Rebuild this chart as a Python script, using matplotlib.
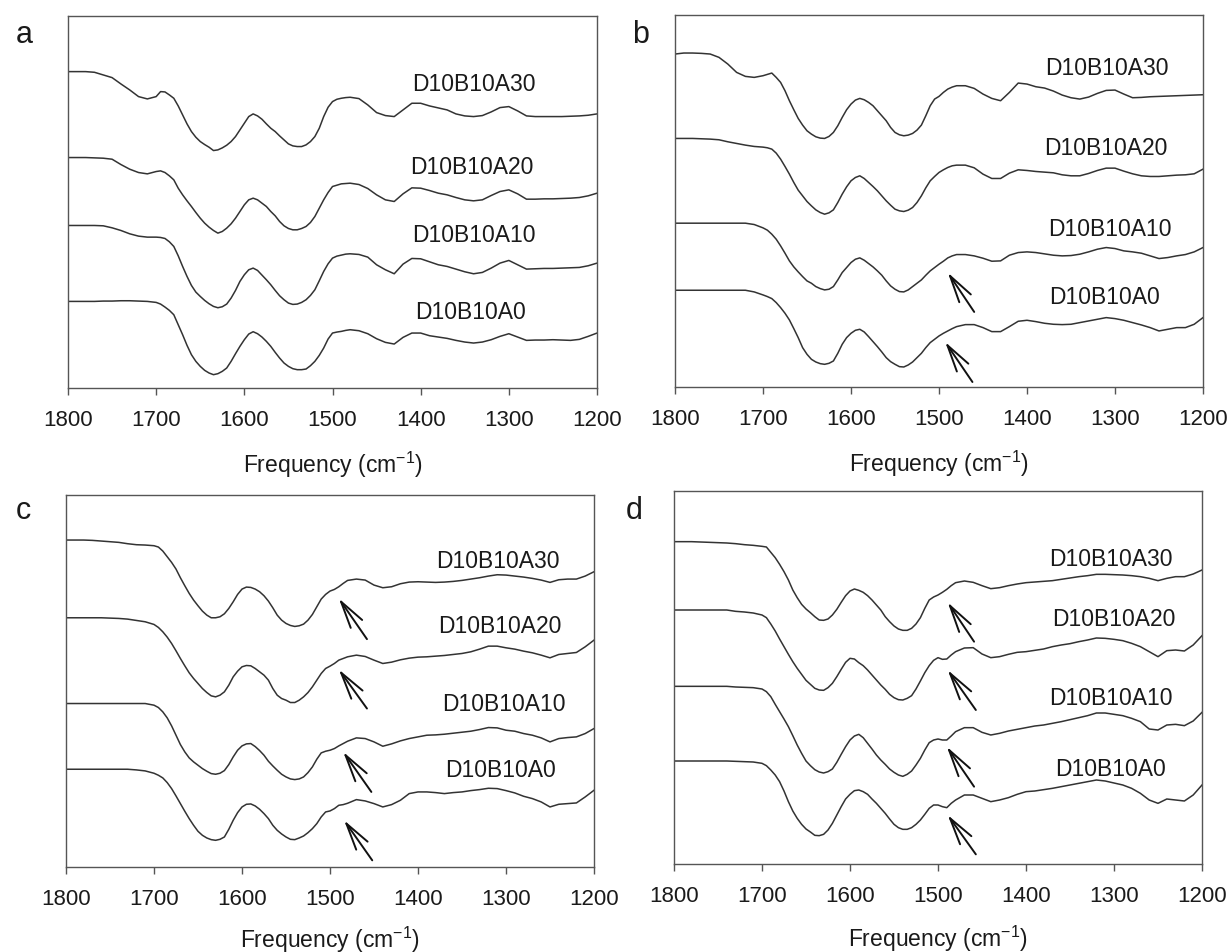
"""
FTIR amide region spectra, four panels (a-d), stacked curves with labels.
"""

import matplotlib
matplotlib.use('Agg')  # Non-interactive backend
import matplotlib.pyplot as plt
import numpy as np

plt.rcParams['font.family'] = ['Liberation Sans', 'DejaVu Sans']
plt.rcParams['mathtext.fontset'] = 'custom'
plt.rcParams['mathtext.rm'] = 'Liberation Sans'
plt.rcParams['mathtext.default'] = 'regular'

# Frequency grids (cm-1): every 10 from 1800 to 1200, plus the
# in-between readings 1695..1485 across the amide bands
freq = np.arange(1800, 1199, -10)
freq_mid = np.arange(1695, 1480, -10)

names = ['D10B10A30', 'D10B10A20', 'D10B10A10', 'D10B10A0']

# ---- panel a ----
a_A30 = [95.0, 95.0, 95.0, 94.8, 94.0, 93.2, 91.3, 89.5, 87.5, 86.8,
         87.5, 88.9, 87.0, 82.0, 77.0, 74.0, 72.3, 71.5, 72.9, 75.5,
         79.5, 82.3, 80.7, 78.0, 75.7, 73.3, 72.5, 73.0, 75.5, 81.5,
         86.0, 87.0, 87.3, 86.9, 85.0, 82.7, 81.8, 81.5, 83.5, 85.5,
         85.5, 84.7, 84.1, 83.5, 82.3, 81.7, 81.5, 81.8, 82.9, 84.2,
         84.5, 83.2, 81.7, 81.5, 81.5, 81.5, 81.5, 81.6, 81.7, 81.9,
         82.3]
a_A30_mid = [89.0, 88.0, 84.7, 79.3, 75.3, 73.1, 71.3, 72.1, 74.0, 77.5, 81.5,
             81.7, 79.3, 77.0, 74.5, 72.7, 72.5, 74.0, 78.0, 84.3, 86.7, 87.2]
a_A20 = [69.2, 69.2, 69.2, 69.1, 69.0, 68.7, 67.1, 65.7, 64.7, 64.3,
         65.0, 64.7, 62.5, 58.0, 54.5, 51.0, 48.3, 46.5, 48.0, 51.0,
         55.0, 57.0, 55.5, 53.0, 50.0, 47.9, 47.5, 48.5, 51.5, 56.5,
         60.5, 61.3, 61.5, 61.1, 59.9, 58.0, 56.5, 56.0, 58.3, 60.1,
         60.0, 59.3, 58.5, 58.0, 57.2, 56.5, 56.2, 56.5, 57.8, 59.0,
         59.5, 58.3, 56.7, 56.7, 56.8, 56.8, 56.9, 57.0, 57.2, 57.7,
         58.5]
a_A20_mid = [65.2, 63.7, 60.0, 56.2, 52.7, 49.5, 47.3, 47.0, 49.3, 53.0, 56.5,
             56.5, 54.5, 51.7, 48.7, 47.5, 47.9, 49.7, 54.0, 58.7, 60.9, 61.4]
a_A10 = [48.8, 48.8, 48.8, 48.8, 48.7, 48.1, 47.3, 46.3, 45.6, 45.3,
         45.3, 44.9, 42.5, 36.5, 30.8, 27.5, 25.3, 24.1, 25.2, 29.3,
         34.0, 36.0, 33.9, 31.0, 27.7, 25.5, 25.2, 26.5, 29.5, 35.0,
         39.0, 39.9, 40.3, 40.1, 39.3, 37.0, 35.5, 34.3, 37.2, 38.9,
         38.8, 37.9, 37.0, 36.5, 35.7, 34.9, 34.3, 34.7, 36.0, 37.5,
         38.3, 37.0, 35.7, 35.8, 35.9, 35.9, 36.0, 36.1, 36.2, 36.7,
         37.5]
a_A10_mid = [45.2, 43.9, 39.7, 33.5, 28.8, 26.3, 24.5, 24.4, 27.0, 32.0, 35.5,
             35.3, 32.5, 29.3, 26.5, 25.1, 25.7, 27.8, 32.2, 37.3, 39.6, 40.2]
a_A0 = [26.0, 26.0, 26.0, 26.0, 26.1, 26.1, 26.2, 26.2, 26.1, 26.0,
        25.7, 24.3, 22.0, 16.0, 10.0, 6.5, 4.5, 4.3, 6.0, 10.3,
        14.5, 16.9, 15.3, 12.5, 9.0, 6.5, 5.5, 5.7, 8.0, 12.0,
        16.5, 17.0, 17.5, 17.2, 16.3, 14.8, 13.7, 13.2, 15.2, 16.5,
        16.5, 15.7, 15.3, 14.9, 14.3, 13.8, 13.5, 13.8, 14.5, 15.5,
        16.3, 15.3, 14.3, 14.4, 14.4, 14.5, 14.4, 14.3, 14.6, 15.5,
        16.5]
a_A0_mid = [25.2, 23.3, 19.0, 12.8, 8.0, 5.3, 4.0, 5.0, 8.0, 12.5, 16.2,
            16.3, 14.0, 10.7, 7.5, 5.8, 5.5, 6.7, 9.8, 14.7, 16.8, 17.3]

# ---- panel b ----
b_A30 = [99.8, 100.1, 100.1, 100.0, 99.8, 98.8, 96.8, 94.3, 93.1, 92.8,
         93.3, 94.1, 91.3, 85.8, 80.5, 76.8, 75.0, 74.5, 76.3, 80.8,
         84.8, 86.5, 85.3, 82.8, 79.8, 76.3, 75.3, 76.0, 78.5, 84.3,
         87.1, 89.3, 90.3, 90.3, 89.5, 87.8, 86.5, 85.8, 88.3, 91.1,
         90.8, 90.0, 89.6, 88.7, 87.5, 86.7, 86.3, 86.9, 88.0, 88.9,
         89.0, 87.8, 86.7, 86.8, 87.0, 87.1, 87.2, 87.3, 87.4, 87.5,
         87.6]
b_A30_mid = [93.7, 92.8, 88.8, 83.1, 78.5, 75.8, 74.6, 75.1, 78.3, 83.1, 86.0,
             86.1, 84.3, 81.3, 77.8, 75.6, 75.5, 77.0, 81.3, 86.3, 88.3, 89.9]
b_A20 = [74.5, 74.5, 74.5, 74.4, 74.3, 74.1, 73.5, 73.0, 72.5, 72.1,
         71.9, 71.3, 68.3, 63.8, 59.0, 55.6, 53.1, 51.8, 53.1, 57.8,
         61.8, 63.3, 61.3, 58.8, 55.8, 53.3, 52.6, 53.8, 57.3, 61.8,
         64.3, 65.8, 66.5, 66.5, 65.7, 63.8, 62.5, 62.5, 64.1, 65.1,
         64.9, 64.6, 64.4, 64.2, 63.6, 63.3, 63.3, 64.0, 64.9, 65.6,
         65.6, 64.7, 63.9, 63.3, 63.1, 63.1, 63.3, 63.5, 63.6, 63.9,
         65.3]
b_A20_mid = [71.7, 70.1, 66.1, 61.3, 57.3, 54.3, 52.3, 52.2, 55.3, 60.0, 62.8,
             62.5, 60.1, 57.3, 54.5, 52.8, 53.0, 55.3, 59.7, 63.1, 65.1, 66.3]
b_A10 = [49.1, 49.1, 49.1, 49.1, 49.1, 49.1, 49.1, 49.1, 49.1, 48.7,
         47.7, 45.8, 42.3, 37.8, 34.5, 31.8, 30.1, 29.1, 30.1, 34.3,
         37.3, 38.7, 37.0, 34.8, 31.8, 29.3, 28.5, 30.1, 32.1, 34.8,
         36.8, 38.7, 39.7, 39.7, 39.3, 38.6, 37.7, 37.8, 39.5, 40.3,
         40.5, 40.3, 39.9, 39.5, 39.3, 39.4, 39.8, 40.5, 41.3, 41.8,
         41.5, 40.8, 40.5, 40.1, 39.3, 38.5, 38.8, 39.3, 39.7, 40.5,
         41.8]
b_A10_mid = [47.0, 44.3, 40.1, 36.0, 33.1, 31.1, 29.5, 29.3, 32.1, 35.8, 38.3,
             38.0, 36.0, 33.5, 30.3, 28.6, 29.1, 31.1, 33.5, 35.8, 37.7, 39.3]
b_A0 = [29.0, 29.0, 29.0, 29.0, 29.0, 29.0, 29.0, 29.0, 29.0, 28.5,
        27.6, 26.5, 23.8, 20.1, 14.8, 9.8, 7.5, 6.8, 7.8, 12.8,
        16.1, 17.3, 15.1, 12.1, 8.8, 6.8, 6.0, 7.5, 10.1, 13.3,
        15.3, 16.8, 18.1, 18.7, 18.7, 17.8, 16.6, 16.6, 18.1, 19.7,
        20.0, 19.6, 19.1, 18.8, 18.7, 18.8, 19.3, 19.8, 20.3, 20.8,
        20.5, 20.0, 19.3, 18.6, 17.8, 16.8, 17.3, 17.8, 17.8, 18.8,
        20.8]
b_A0_mid = [27.1, 25.3, 22.1, 17.5, 11.8, 8.3, 7.0, 7.1, 10.1, 14.8, 17.0,
            16.5, 13.6, 10.5, 7.6, 6.1, 6.6, 8.8, 11.8, 14.3, 16.1, 17.5]

# ---- panel c ----
c_A30 = [98.0, 98.0, 98.0, 97.9, 97.7, 97.5, 97.3, 96.9, 96.6, 96.5,
         96.3, 94.7, 91.3, 86.7, 82.0, 78.3, 75.5, 74.7, 75.9, 79.5,
         83.3, 83.8, 82.5, 79.7, 75.5, 73.0, 72.1, 72.8, 75.7, 80.3,
         82.7, 84.0, 85.9, 86.3, 86.0, 84.5, 83.7, 84.0, 84.9, 85.4,
         85.5, 85.4, 85.3, 85.4, 85.6, 85.9, 86.3, 86.7, 87.2, 87.6,
         87.5, 87.2, 86.9, 86.5, 86.0, 85.3, 86.1, 86.3, 86.3, 87.2,
         88.5]
c_A30_mid = [95.9, 93.0, 89.3, 84.3, 80.0, 76.7, 74.7, 75.0, 77.5, 81.7, 83.9,
             83.3, 81.3, 77.7, 74.0, 72.4, 72.3, 74.0, 78.0, 81.7, 83.2, 85.0]
c_A20 = [74.7, 74.7, 74.7, 74.7, 74.7, 74.6, 74.5, 74.3, 73.9, 73.5,
         72.7, 70.5, 67.0, 62.5, 58.2, 55.0, 52.3, 51.0, 52.5, 57.0,
         60.0, 60.3, 58.5, 56.0, 51.5, 50.0, 49.3, 51.0, 54.0, 58.0,
         60.2, 62.0, 63.0, 63.5, 63.1, 62.0, 61.0, 61.4, 62.1, 62.6,
         62.9, 63.0, 63.2, 63.4, 63.7, 64.0, 64.5, 65.3, 66.2, 66.2,
         65.7, 65.3, 64.7, 64.2, 63.5, 62.7, 63.7, 64.0, 64.3, 66.0,
         68.0]
c_A20_mid = [71.8, 68.9, 64.8, 60.3, 56.5, 53.5, 51.3, 51.5, 54.5, 58.7, 60.4,
             59.5, 57.5, 53.5, 50.5, 49.3, 50.0, 52.3, 56.0, 59.5, 61.0, 62.5]
c_A10 = [49.0, 49.0, 49.0, 49.0, 49.0, 49.0, 49.0, 49.0, 49.0, 49.0,
         48.5, 46.5, 42.3, 36.7, 32.7, 30.5, 28.7, 27.8, 28.9, 33.0,
         36.3, 37.0, 34.9, 31.7, 29.0, 27.0, 26.2, 27.0, 30.0, 34.2,
         35.0, 36.3, 37.7, 38.7, 38.5, 37.5, 36.2, 36.9, 37.8, 38.5,
         39.0, 39.5, 39.6, 39.8, 40.1, 40.4, 40.7, 41.2, 41.8, 41.7,
         41.0, 40.7, 40.0, 39.5, 38.7, 37.5, 38.5, 38.8, 39.0, 40.0,
         41.5]
c_A10_mid = [47.8, 44.7, 39.5, 34.5, 31.5, 29.5, 28.0, 28.1, 30.7, 35.0, 36.9,
             36.1, 33.5, 30.3, 27.8, 26.4, 26.4, 28.3, 32.3, 34.7, 35.5, 37.0]
c_A0 = [29.3, 29.3, 29.3, 29.3, 29.3, 29.3, 29.3, 29.3, 29.1, 28.8,
        28.1, 26.7, 23.5, 19.0, 14.5, 10.7, 8.7, 8.0, 9.0, 14.0,
        18.0, 18.9, 17.3, 14.5, 11.0, 9.0, 8.2, 9.3, 11.5, 15.0,
        16.8, 18.5, 19.1, 20.2, 19.8, 19.0, 18.0, 18.7, 20.0, 22.0,
        22.5, 22.5, 22.3, 22.0, 22.3, 22.5, 22.9, 23.2, 23.6, 23.5,
        22.9, 22.2, 21.2, 20.5, 19.5, 18.0, 18.8, 19.0, 19.2, 21.0,
        23.0]
c_A0_mid = [27.5, 25.3, 21.3, 16.7, 12.5, 9.5, 8.2, 8.3, 11.3, 16.3, 18.8,
            18.3, 16.0, 12.5, 9.9, 8.3, 8.7, 10.3, 13.0, 16.5, 17.5, 18.7]

# ---- panel d ----
d_A30 = [96.7, 96.7, 96.7, 96.6, 96.5, 96.4, 96.3, 96.1, 95.8, 95.6,
         95.3, 93.5, 89.9, 85.2, 79.9, 76.5, 74.2, 73.1, 74.7, 78.5,
         81.9, 82.1, 80.5, 77.7, 74.2, 71.4, 70.1, 70.7, 73.9, 79.2,
         80.7, 82.4, 84.4, 84.9, 84.5, 83.5, 82.6, 82.9, 83.5, 84.0,
         84.4, 84.6, 84.8, 85.0, 85.4, 85.8, 86.2, 86.5, 86.9, 86.9,
         86.8, 86.7, 86.5, 86.2, 85.7, 85.0, 85.7, 86.2, 86.2, 87.0,
         88.2]
d_A30_mid = [95.1, 91.9, 87.7, 82.2, 77.9, 75.4, 73.2, 73.5, 76.4, 80.5, 82.5,
             81.5, 79.2, 76.2, 72.7, 70.5, 70.1, 72.0, 76.7, 80.1, 81.5, 83.5]
d_A20 = [76.2, 76.2, 76.2, 76.2, 76.2, 76.2, 76.2, 75.8, 75.6, 75.3,
         74.7, 72.0, 67.5, 62.9, 58.7, 55.1, 52.7, 52.1, 54.2, 58.4,
         61.7, 60.4, 58.2, 55.2, 52.4, 49.9, 49.2, 50.5, 54.9, 59.5,
         61.9, 61.5, 63.7, 64.8, 64.9, 63.0, 61.9, 62.2, 62.9, 63.5,
         63.7, 64.1, 64.5, 65.2, 65.7, 66.1, 66.7, 67.2, 67.8, 67.7,
         67.4, 67.0, 66.2, 65.2, 63.7, 62.2, 64.0, 64.2, 63.9, 65.7,
         68.5]
d_A20_mid = [73.9, 69.9, 65.2, 60.7, 56.9, 53.9, 52.2, 52.9, 56.2, 60.5, 61.5,
             59.5, 56.7, 53.7, 50.9, 49.3, 49.7, 52.5, 57.4, 61.1, 61.4, 62.7]
d_A10 = [53.3, 53.3, 53.3, 53.3, 53.3, 53.3, 53.3, 53.1, 53.0, 52.9,
         52.5, 50.2, 45.7, 41.2, 35.7, 30.9, 28.3, 27.3, 28.5, 32.9,
         37.2, 38.9, 36.2, 32.7, 29.9, 27.5, 26.3, 27.9, 31.7, 36.4,
         37.5, 37.2, 39.7, 40.9, 40.9, 39.5, 38.7, 39.2, 39.9, 40.4,
         40.9, 41.4, 41.7, 42.2, 42.7, 43.3, 43.9, 44.5, 45.3, 45.3,
         44.9, 44.5, 43.7, 42.7, 40.5, 40.2, 41.7, 41.9, 41.5, 42.9,
         45.5]
d_A10_mid = [51.7, 47.9, 43.5, 38.5, 33.2, 29.5, 27.6, 27.7, 30.5, 35.2, 38.4,
             37.9, 34.5, 31.2, 28.5, 26.7, 26.9, 29.7, 34.2, 37.2, 37.2, 38.4]
d_A0 = [30.9, 30.9, 30.9, 30.9, 30.9, 30.9, 30.9, 30.8, 30.7, 30.6,
        30.2, 28.2, 24.7, 18.7, 13.7, 10.5, 8.6, 8.9, 12.2, 17.2,
        20.9, 22.2, 20.9, 18.2, 15.2, 11.9, 10.4, 10.9, 13.2, 16.7,
        17.7, 16.9, 19.2, 20.7, 20.7, 19.7, 18.7, 19.2, 19.9, 20.9,
        21.7, 21.9, 22.3, 22.7, 23.2, 23.7, 24.2, 24.7, 25.2, 24.9,
        24.3, 23.7, 22.7, 21.2, 19.2, 18.2, 19.5, 19.2, 18.9, 20.7,
        23.7]
d_A0_mid = [29.5, 26.7, 21.9, 15.9, 11.9, 9.6, 8.5, 10.2, 14.7, 19.5, 22.0,
            21.7, 19.5, 16.7, 13.5, 10.9, 10.4, 11.9, 14.9, 17.7, 17.2, 18.2]

# label anchor points (frequency, offset) for the four curve names
a_names_at = [(1340, 91.5), (1342, 66.5), (1340, 46.0), (1344, 23.0)]
b_names_at = [(1309, 95.8), (1310, 71.8), (1306, 47.6), (1312, 27.0)]
c_names_at = [(1309, 92.0), (1307, 72.5), (1302, 49.0), (1306, 29.3)]
d_names_at = [(1303, 91.7), (1300, 73.5), (1303, 50.0), (1304, 28.7)]

# arrows: (tip, tail) in data coords
b_arrows = [((1490, 34.3), (1460, 22.5)), ((1493, 13.5), (1462, 1.5))]
c_arrows = [((1490, 80.5), (1458, 68.3)), ((1490, 59.2), (1458, 47.5)),
            ((1485, 34.5), (1453, 22.5)), ((1484, 14.0), (1452, 2.0))]
d_arrows = [((1489, 78.5), (1459, 66.7)), ((1489, 58.2), (1457, 46.2)),
            ((1490, 35.2), (1459, 23.2)), ((1489, 14.7), (1457, 2.9))]

W, H = 1232, 953


def px_rect(x0, y0, x1, y1):
    return [x0 / W, 1 - y1 / H, (x1 - x0) / W, (y1 - y0) / H]


def merged(main, mid):
    """Put the 10-step and in-between readings together, high to low frequency."""
    f = np.concatenate([freq, freq_mid])
    v = np.concatenate([main, mid])
    order = np.argsort(-f)
    return f[order], v[order]


panels = [
    dict(letter='a', letter_at=(16, 43), rect=px_rect(68, 17, 597, 389), ytop=111.7,
         curves=[(a_A30, a_A30_mid), (a_A20, a_A20_mid), (a_A10, a_A10_mid), (a_A0, a_A0_mid)],
         names_at=a_names_at, arrows=[], lpad=14),
    dict(letter='b', letter_at=(632, 43), rect=px_rect(675, 16, 1203, 388), ytop=111.5,
         curves=[(b_A30, b_A30_mid), (b_A20, b_A20_mid), (b_A10, b_A10_mid), (b_A0, b_A0_mid)],
         names_at=b_names_at, arrows=b_arrows, lpad=14),
    dict(letter='c', letter_at=(16, 519), rect=px_rect(66, 496, 594, 868), ytop=111.5,
         curves=[(c_A30, c_A30_mid), (c_A20, c_A20_mid), (c_A10, c_A10_mid), (c_A0, c_A0_mid)],
         names_at=c_names_at, arrows=c_arrows, lpad=11),
    dict(letter='d', letter_at=(626, 519), rect=px_rect(674, 492, 1202, 865), ytop=111.9,
         curves=[(d_A30, d_A30_mid), (d_A20, d_A20_mid), (d_A10, d_A10_mid), (d_A0, d_A0_mid)],
         names_at=d_names_at, arrows=d_arrows, lpad=12),
]

fig = plt.figure(figsize=(12.32, 9.53), dpi=100)

for p in panels:
    ax = fig.add_axes(p['rect'])

    for main, mid in p['curves']:
        fx, fy = merged(main, mid)
        ax.plot(fx, fy, color='#333333', lw=1.1, solid_joinstyle='round')

    for name, (fx, fy) in zip(names, p['names_at']):
        ax.text(fx, fy, name, ha='center', va='center', fontsize=16.5, color='#1a1a1a')

    for tip, tail in p['arrows']:
        ax.annotate('', xy=tip, xytext=tail,
                    arrowprops=dict(arrowstyle='->, head_length=1.95, head_width=0.5',
                                    color='#111111', lw=1.4, shrinkA=0, shrinkB=0))

    ax.set_xlim(1800, 1200)
    ax.set_ylim(0, p['ytop'])
    ax.set_xticks(np.arange(1800, 1199, -100))
    ax.set_yticks([])
    ax.tick_params(axis='x', direction='out', length=5, width=1, pad=10,
                   labelsize=16, colors='#555555', labelcolor='#1a1a1a')
    for s in ax.spines.values():
        s.set_color('#555555')
        s.set_linewidth(1.0)
    ax.set_xlabel('Frequency (cm$^{-1}$)', fontsize=16.5, labelpad=p['lpad'], color='#1a1a1a')

    lx, ly = p['letter_at']
    fig.text(lx / W, 1 - ly / H, p['letter'], fontsize=22, va='baseline', ha='left',
             color='#1a1a1a')

plt.savefig('out.png', dpi=100)
plt.close()
